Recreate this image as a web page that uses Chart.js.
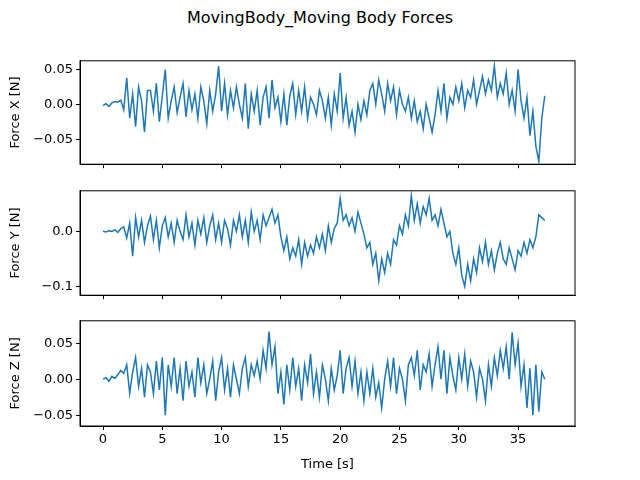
<!DOCTYPE html>
<html><head><meta charset="utf-8">
<script src="https://cdn.jsdelivr.net/npm/chart.js@4"></script>
<style>
body{margin:0;width:640px;height:480px;background:#fff;position:relative;overflow:hidden;font-family:"DejaVu Sans",sans-serif}
#title{position:absolute;top:8px;left:0;width:640px;text-align:center;font-size:16px;color:#000}
.w{position:absolute;left:0;width:640px}
</style></head><body>
<div id="title">MovingBody_Moving Body Forces</div>
<div class="w" style="top:50px;height:125px"><canvas id="c1"></canvas></div>
<div class="w" style="top:180px;height:126px"><canvas id="c2"></canvas></div>
<div class="w" style="top:310px;height:166px"><canvas id="c3"></canvas></div>
<script>
const timeStep = 0.25;
const forceX = [
-0.002,0.001,-0.003,0.002,0.004,0.003,0.006,-0.008,
0.038,-0.02,0.015,-0.032,0.025,0.005,-0.04,0.02,
0.02,-0.01,0.03,-0.025,0.012,0.05,-0.02,0.005,
0.025,-0.012,0.01,0.03,-0.018,0.02,-0.008,0.015,
-0.02,0.025,0.005,-0.028,0.02,-0.01,0.015,0.055,
-0.01,0.03,-0.015,0.02,-0.005,0.025,0.0,-0.02,
0.03,-0.035,0.015,-0.01,0.02,-0.03,0.01,0.025,
-0.02,0.035,-0.005,0.01,-0.025,0.015,-0.03,0.012,
0.03,-0.015,0.02,-0.01,0.025,-0.02,0.01,0.0,
-0.015,0.02,0.005,-0.02,0.01,-0.03,0.015,-0.01,
0.045,-0.02,0.01,-0.03,-0.01,-0.04,0.0,-0.022,
0.005,-0.015,0.02,0.03,0.0,0.035,0.015,-0.01,
0.03,0.005,0.025,-0.015,0.02,0.0,-0.01,0.01,
-0.02,0.005,-0.025,-0.01,-0.035,0.0,-0.02,-0.04,
-0.015,0.02,-0.01,0.03,-0.02,0.01,0.0,0.025,
0.005,0.03,-0.005,0.02,0.01,0.035,0.0,0.02,
0.04,0.015,0.035,0.02,0.055,0.01,0.03,0.015,
0.045,0.0,0.02,-0.01,0.05,0.005,-0.02,0.01,
-0.045,-0.01,-0.06,-0.082,-0.02,0.012];
const forceY = [
0.0,-0.001,0.001,0.0,0.003,-0.002,0.005,0.008,
-0.012,0.015,-0.045,0.025,-0.01,0.02,-0.02,0.01,
0.028,-0.015,0.02,-0.03,0.01,0.025,-0.01,0.015,
-0.02,0.02,0.0,-0.015,0.03,-0.01,0.015,-0.025,
0.02,-0.005,0.025,-0.02,0.01,0.03,-0.015,0.015,
-0.02,0.02,0.005,-0.025,0.02,0.0,0.03,-0.01,
0.02,-0.02,0.035,0.0,0.02,-0.015,0.03,0.01,
0.025,0.04,0.015,0.03,-0.01,-0.035,-0.01,-0.05,
-0.03,-0.045,-0.015,-0.06,-0.02,-0.045,-0.025,-0.04,
-0.01,-0.03,-0.005,-0.035,0.01,-0.02,0.005,0.015,
0.06,0.02,0.03,0.01,0.025,0.0,0.035,0.015,
-0.005,-0.03,-0.02,-0.06,-0.04,-0.09,-0.05,-0.075,
-0.04,-0.06,-0.015,-0.025,0.01,-0.005,0.03,0.01,
0.065,0.02,0.05,0.015,0.045,0.03,0.06,0.02,
0.03,0.01,0.04,0.015,-0.01,0.0,-0.04,-0.06,
-0.03,-0.08,-0.1,-0.06,-0.09,-0.05,-0.075,-0.03,
-0.055,-0.02,-0.06,-0.035,-0.07,-0.04,-0.02,-0.05,
-0.06,-0.03,-0.05,-0.07,-0.035,-0.045,-0.02,-0.04,
-0.015,-0.03,-0.01,0.03,0.025,0.02];
const forceZ = [
0.0,0.002,-0.003,0.004,0.001,0.006,0.012,0.008,
0.02,-0.02,0.01,0.03,-0.01,0.015,-0.025,0.02,
0.01,-0.02,0.025,-0.015,0.03,-0.05,0.02,-0.01,
0.03,-0.02,0.015,-0.03,0.025,-0.01,0.01,-0.025,
0.03,-0.005,0.02,-0.02,0.0,0.025,-0.03,0.01,
0.03,-0.015,0.015,-0.025,0.02,0.0,-0.02,0.015,
0.03,-0.01,0.02,0.005,0.025,0.0,0.04,0.015,
0.066,0.02,0.045,-0.02,0.01,-0.035,0.02,-0.015,
0.03,-0.01,0.015,-0.03,0.02,-0.005,0.035,-0.02,
0.01,-0.025,0.02,0.0,-0.03,0.015,-0.015,0.005,
0.04,-0.02,0.015,0.03,-0.01,0.025,-0.02,0.01,
-0.03,0.01,-0.02,0.015,-0.025,-0.005,-0.04,0.0,
0.025,-0.01,0.03,-0.02,0.015,0.0,-0.03,0.02,
0.03,0.005,0.04,-0.015,0.02,0.01,0.035,-0.01,
0.02,0.045,0.0,0.04,-0.02,0.03,0.005,-0.015,
0.03,0.0,0.035,-0.01,0.025,0.01,-0.025,0.015,
0.0,-0.03,0.02,-0.01,0.03,0.005,0.04,0.015,
0.045,0.0,0.065,0.02,0.05,-0.01,0.02,-0.04,
0.015,-0.05,0.02,-0.045,0.01,0.0];
const xTicks = [0,5,10,15,20,25,30,35];
const yTicksX = [-0.05,0.0,0.05];
const yTicksY = [-0.1,0.0];
const yTicksZ = [-0.05,0.0,0.05];

const font = {family:'"DejaVu Sans", sans-serif', size:13};
const frame = {id:'frame', afterDraw(c){const a=c.chartArea,ctx=c.ctx;ctx.save();ctx.strokeStyle='#000';ctx.lineWidth=1;ctx.strokeRect(a.left,a.top,a.right-a.left,a.bottom-a.top);ctx.restore();}};

function make(id, vals, yt, ymin, ymax, label, bottom){
  const pts = vals.map((v,i)=>({x:i*timeStep, y:v}));
  new Chart(document.getElementById(id), {
    type:'line',
    data:{datasets:[{data:pts, borderColor:'#1f77b4', borderWidth:1.5, pointRadius:0, tension:0}]},
    options:{
      responsive:true, maintainAspectRatio:false, animation:false,
      layout:{padding:{top:8,right:65,left:4,bottom:0}},
      plugins:{legend:{display:false}, tooltip:{enabled:false}},
      scales:{
        x:{type:'linear', min:-1.94, max:39.8,
          afterBuildTicks(s){s.ticks=xTicks.map(v=>({value:v}));},
          afterFit(s){s.height = bottom?50:10;},
          grid:{drawOnChartArea:false, tickLength:4, color:'#000'},
          border:{color:'#000'},
          ticks:{display:bottom, color:'#000', font, padding:2, maxRotation:0, callback:v=>String(v)},
          title:{display:bottom, text:'Time [s]', color:'#000', font, padding:{top:2}}},
        y:{min:ymin, max:ymax,
          afterBuildTicks(s){s.ticks=yt.map(v=>({value:v}));},
          afterFit(s){s.width=76;},
          grid:{drawOnChartArea:false, tickLength:4, color:'#000'},
          border:{color:'#000'},
          ticks:{color:'#000', font, padding:3, callback:v=>v.toFixed(yt===yTicksY?1:2).replace('-','\u2212')},
          title:{display:true, text:label, color:'#000', font, padding:{bottom:2}}}
      }
    },
    plugins:[frame]
  });
}
make('c1', forceX, yTicksX, -0.086, 0.0625, 'Force X [N]', false);
make('c2', forceY, yTicksY, -0.116, 0.0737, 'Force Y [N]', false);
make('c3', forceZ, yTicksZ, -0.065, 0.081, 'Force Z [N]', true);
</script>
</body></html>
